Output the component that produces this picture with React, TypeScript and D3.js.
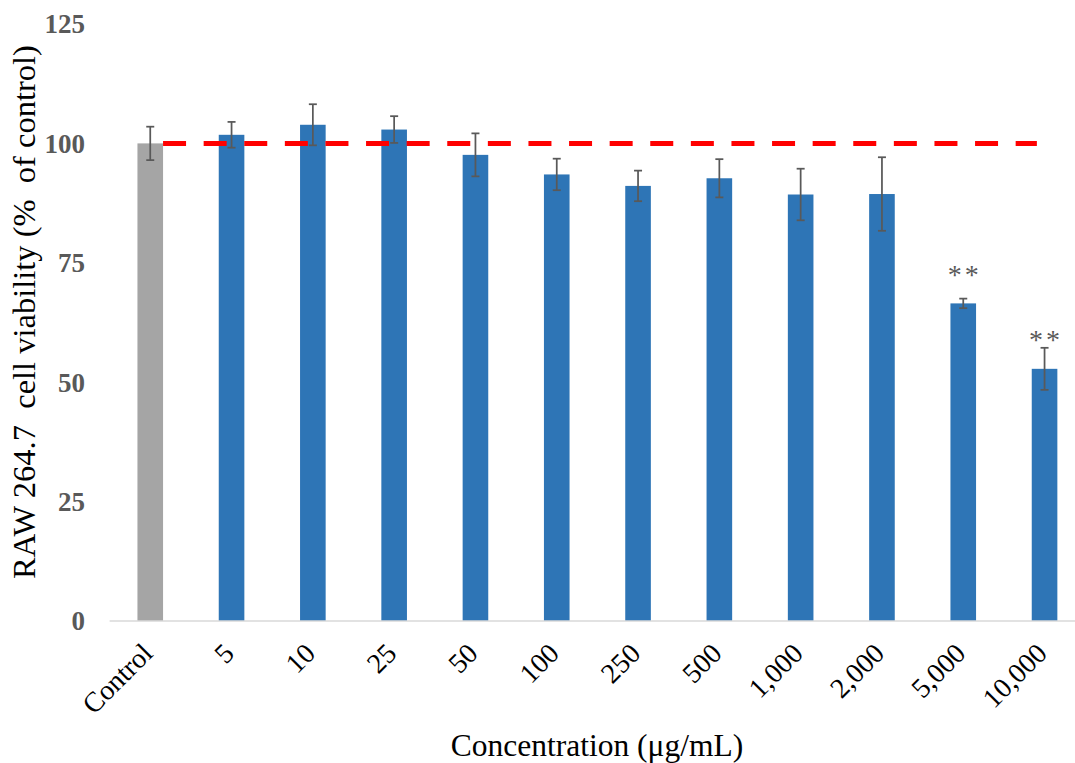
import React from "react";
import * as d3 from "d3";

// Concentrations tested (µg/mL), with the untreated control first
const categories = ["Control", "5", "10", "25", "50", "100", "250", "500", "1,000", "2,000", "5,000", "10,000"];
// Mean viability (% of control)
const viability = [100, 101.8, 103.9, 102.9, 97.6, 93.5, 91.1, 92.7, 89.3, 89.4, 66.5, 52.8];
// Standard deviation
const errors = [3.5, 2.7, 4.3, 2.8, 4.5, 3.3, 3.2, 4.0, 5.4, 7.7, 1.0, 4.4];
// Significance markers
const significance = ["", "", "", "", "", "", "", "", "", "", "**", "**"];
const yTicks = [0, 25, 50, 75, 100, 125];
const referenceLevel = 100;

const W = 1075;
const H = 763;
const FONT = "'Liberation Serif', 'Times New Roman', serif";

export default function App() {
  const y = d3.scaleLinear().domain([0, 125]).range([621, 24]);
  const x = d3.scaleBand().domain(categories).range([109.6, 1085.2]).paddingInner(0).paddingOuter(0);
  const bw = x.bandwidth();
  const barW = bw * 0.315;
  const cx = (c: string) => (x(c) as number) + bw / 2;

  const refStart = cx(categories[0]) + barW / 2;
  const refEnd = cx(categories[categories.length - 1]) - barW * 0.3;

  return (
    <svg width={W} height={H} style={{ position: "absolute", left: 0, top: 0, background: "#fff" }}>
      {/* bars */}
      {categories.map((c, i) => (
        <rect
          key={c}
          x={cx(c) - barW / 2}
          y={y(viability[i])}
          width={barW}
          height={y(0) - y(viability[i])}
          fill={i === 0 ? "#a5a5a5" : "#2e75b6"}
        />
      ))}

      {/* category axis */}
      <line x1={x.range()[0]} x2={x.range()[1]} y1={y(0)} y2={y(0)} stroke="#d9d9d9" strokeWidth={1.5} />

      {/* 100 % reference */}
      <line
        x1={refStart}
        x2={refEnd}
        y1={y(referenceLevel)}
        y2={y(referenceLevel)}
        stroke="#ff0000"
        strokeWidth={5}
        strokeDasharray="23 17.6"
      />

      {/* error bars */}
      {categories.map((c, i) => {
        const top = y(viability[i] + errors[i]);
        const bot = y(viability[i] - errors[i]);
        const xc = cx(c);
        return (
          <g key={"e" + c} stroke="#595959" strokeWidth={1.75}>
            <line x1={xc} x2={xc} y1={top} y2={bot} />
            <line x1={xc - 4} x2={xc + 4} y1={top} y2={top} />
            <line x1={xc - 4} x2={xc + 4} y1={bot} y2={bot} />
          </g>
        );
      })}

      {/* significance */}
      {categories.map((c, i) =>
        significance[i] ? (
          <text
            key={"s" + c}
            x={cx(c) + 1.5}
            y={y(viability[i]) - 35}
            dy="0.55em"
            textAnchor="middle"
            fontFamily={FONT}
            fontSize={28}
            letterSpacing={3}
            fill="#595959"
          >
            {significance[i]}
          </text>
        ) : null
      )}

      {/* value axis labels */}
      {yTicks.map((t) => (
        <text
          key={"y" + t}
          x={85}
          y={y(t)}
          dy="0.35em"
          textAnchor="end"
          fontFamily={FONT}
          fontWeight="bold"
          fontSize={27}
          fill="#595959"
        >
          {t}
        </text>
      ))}

      {/* category labels */}
      {categories.map((c) => (
        <text
          key={"x" + c}
          transform={`translate(${cx(c) + 4},${655}) rotate(-45)`}
          textAnchor="end"
          fontFamily={FONT}
          fontSize={28}
          fill="#000"
        >
          {c}
        </text>
      ))}

      {/* axis titles */}
      <text
        x={597}
        y={756}
        textAnchor="middle"
        fontFamily={FONT}
        fontSize={31.5}
        fill="#000"
      >
        Concentration (μg/mL)
      </text>
      <text
        transform="translate(35,312) rotate(-90)"
        textAnchor="middle"
        fontFamily={FONT}
        fontSize={32.5}
        fill="#000"
        style={{ whiteSpace: "pre" }}
      >
        {"RAW 264.7  cell viability (%  of control)"}
      </text>
    </svg>
  );
}
